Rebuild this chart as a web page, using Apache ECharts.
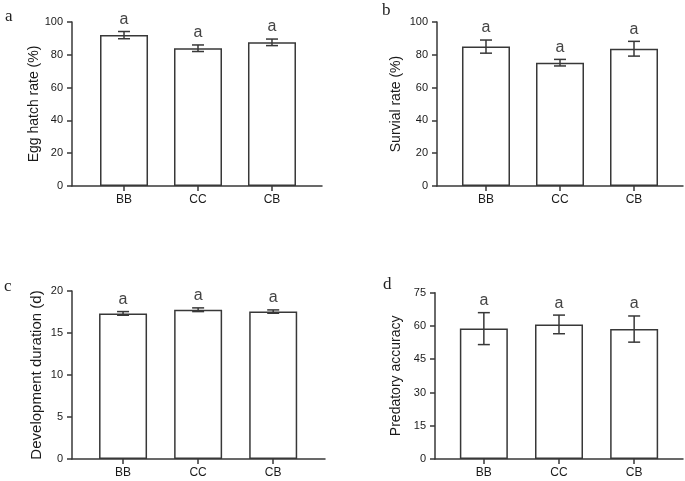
<!DOCTYPE html>
<html>
<head>
<meta charset="utf-8">
<script src="https://cdn.jsdelivr.net/npm/echarts@6/dist/echarts.min.js"></script>
<style>html,body{margin:0;padding:0;background:#fff}#c{width:685px;height:481px}</style>
</head>
<body>
<div id="c"></div>
<script>
// ---- data ----
var categories = ['BB', 'CC', 'CB'];
var eggHatch = [92.0, 84.0, 87.6];
var eggHatchErr = [2.2, 2.0, 2.0];
var survival = [85.0, 75.2, 83.7];
var survivalErr = [4.0, 2.0, 4.5];
var devDuration = [17.33, 17.77, 17.55];
var devDurationErr = [0.22, 0.22, 0.2];
var predatory = [58.8, 60.7, 58.6];
var predatoryErr = [7.2, 4.2, 5.9];
var sigLetters = ['a', 'a', 'a'];
var panelLetters = ['a', 'b', 'c', 'd'];
var yNames = ['Egg hatch rate (%)', 'Survial rate (%)', 'Development duration (d)', 'Predatory accuracy'];
var yMax = [100, 100, 20, 75];
var yInterval = [20, 20, 5, 15];

// ---- layout ----
var panels = [
  {means: eggHatch, errs: eggHatchErr, left: 72, right: 685 - 322, top: 22, bottom: 481 - 186, xmin: -0.703, xmax: 2.676, nameGap: 29, nameSize: 14, letter: {left: 5, top: 8}},
  {means: survival, errs: survivalErr, left: 437, right: 685 - 683, top: 22, bottom: 481 - 186, xmin: -0.662, xmax: 2.662, nameGap: 34, nameSize: 14, letter: {left: 382, top: 2}},
  {means: devDuration, errs: devDurationErr, left: 72, right: 685 - 325, top: 291, bottom: 481 - 459, xmin: -0.68, xmax: 2.69, nameGap: 28, nameSize: 15, letter: {left: 4, top: 278}},
  {means: predatory, errs: predatoryErr, left: 435, right: 685 - 683, top: 292.7, bottom: 481 - 459, xmin: -0.65, xmax: 2.65, nameGap: 32, nameSize: 14, letter: {left: 383, top: 276}}
];

var ink = '#383838';
var font = 'Liberation Sans, Arial, sans-serif';
var grids = [], xAxes = [], yAxes = [], series = [], titles = [];
panels.forEach(function (p, i) {
  grids.push({left: p.left, right: p.right, top: p.top, bottom: p.bottom, containLabel: false});
  xAxes.push({
    type: 'value', gridIndex: i, min: p.xmin, max: p.xmax,
    splitLine: {show: false},
    axisLine: {show: true, onZero: false, lineStyle: {color: ink, width: 1.5}},
    axisTick: {show: true, customValues: [0, 1, 2], length: 5, lineStyle: {color: ink, width: 1.5}},
    axisLabel: {show: true, customValues: [0, 1, 2], margin: 8, color: '#1a1a1a', fontSize: 12, fontFamily: font,
      formatter: function (v) { return categories[Math.round(v)] || ''; }}
  });
  yAxes.push({
    type: 'value', gridIndex: i, min: 0, max: yMax[i], interval: yInterval[i],
    name: yNames[i], nameLocation: 'middle', nameGap: p.nameGap, nameRotate: 90,
    nameTextStyle: {color: '#1a1a1a', fontSize: p.nameSize, fontFamily: font},
    splitLine: {show: false},
    axisLine: {show: true, onZero: false, lineStyle: {color: ink, width: 1.5}},
    axisTick: {show: true, length: 5, lineStyle: {color: ink, width: 1.5}},
    axisLabel: {margin: 9, color: '#1a1a1a', fontSize: 11, fontFamily: font}
  });
  series.push({
    type: 'bar', xAxisIndex: i, yAxisIndex: i, barWidth: 48, z: 2,
    data: p.means.map(function (v, k) { return [k, v]; }),
    itemStyle: {color: '#fff', borderColor: ink, borderWidth: 1.5},
    silent: true, animation: false
  });
  series.push({
    type: 'custom', xAxisIndex: i, yAxisIndex: i, silent: true, animation: false, z: 5,
    data: p.means.map(function (v, k) { return [k, v, p.errs[k]]; }),
    renderItem: function (params, api) {
      var x = api.value(0), m = api.value(1), e = api.value(2);
      var top = api.coord([x, m + e]);
      var bot = api.coord([x, m - e]);
      var cap = 6;
      return {
        type: 'group',
        children: [
          {type: 'line', shape: {x1: top[0], y1: top[1], x2: bot[0], y2: bot[1]}, style: {stroke: ink, lineWidth: 1.5}},
          {type: 'line', shape: {x1: top[0] - cap, y1: top[1], x2: top[0] + cap, y2: top[1]}, style: {stroke: ink, lineWidth: 1.5}},
          {type: 'line', shape: {x1: bot[0] - cap, y1: bot[1], x2: bot[0] + cap, y2: bot[1]}, style: {stroke: ink, lineWidth: 1.5}},
          {type: 'text', style: {text: sigLetters[params.dataIndex], x: top[0], y: top[1] - 4,
            textAlign: 'center', textVerticalAlign: 'bottom', fill: '#444', fontSize: 16, fontFamily: font}}
        ]
      };
    }
  });
  titles.push({text: panelLetters[i], left: p.letter.left, top: p.letter.top, padding: 0,
    textStyle: {fontFamily: 'Liberation Serif, Times New Roman, serif', fontWeight: 'normal', fontSize: 17, color: '#222'}});
});

var chart = echarts.init(document.getElementById('c'), null, {renderer: 'canvas'});
chart.setOption({
  animation: false,
  backgroundColor: '#fff',
  title: titles,
  grid: grids,
  xAxis: xAxes,
  yAxis: yAxes,
  series: series
});
</script>
</body>
</html>
